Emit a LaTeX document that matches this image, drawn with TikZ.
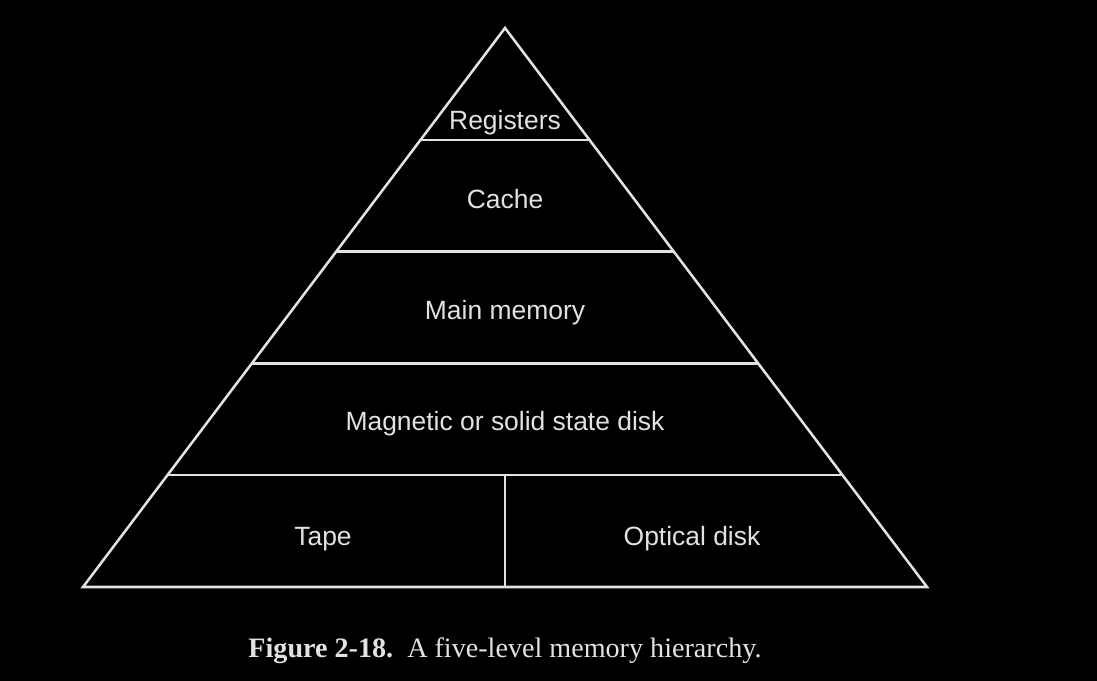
\documentclass[tikz,border=0pt]{standalone}
\usepackage{fontspec}
\setmainfont{Liberation Serif}
\newfontfamily\labelfont{Liberation Sans}
\usetikzlibrary{calc}
\definecolor{linegray}{HTML}{E2E2E2}
\tikzset{
  level/.style={text=linegray,anchor=base,font=\labelfont\fontsize{18.8}{22}\selectfont},
  edge/.style={draw=linegray,line width=1.8pt}
}
\begin{document}
\begin{tikzpicture}[x=0.025cm,y=-0.025cm]
            % background
            \fill[black] (0,0) rectangle (1097,681);
            \useasboundingbox (0,0) rectangle (1097,681);
            % Pyramid corners
            \coordinate (apex) at (505,28);
            \coordinate (bl) at (83,587);
            \coordinate (br) at (927,587);
            \draw[edge,line join=miter] (apex) -- (bl) -- (br) -- cycle;
            % Level lines
            \foreach \t in {0.2,0.4,0.6,0.8} {
              \draw[edge] ($(apex)!\t!(bl)$) -- ($(apex)!\t!(br)$);
            }
            % Split of the bottom level
            \coordinate (split) at ($(bl)!0.5!(br)$);
            \draw[edge] (split) -- (split |- 0,476);
            % Labels
            \node[level] (regs) at (505,129.5) {Registers};
            \node[level] (cache) at (505,208.5) {Cache};
            \node[level] (mainmem) at (505,319.5) {Main memory};
            \node[level] (disk) at (505,430.5) {Magnetic or solid state disk};
            \node[level] (tape) at (323,545) {Tape};
            \node[level] (optical) at (692,545) {Optical disk};
            % Caption
            \node[text=linegray,anchor=base,font=\fontsize{20}{24}\selectfont] (caption) at (505,657)
              {\textbf{Figure 2-18.}\ \ A five-level memory hierarchy.};
        \end{tikzpicture}
\end{document}
